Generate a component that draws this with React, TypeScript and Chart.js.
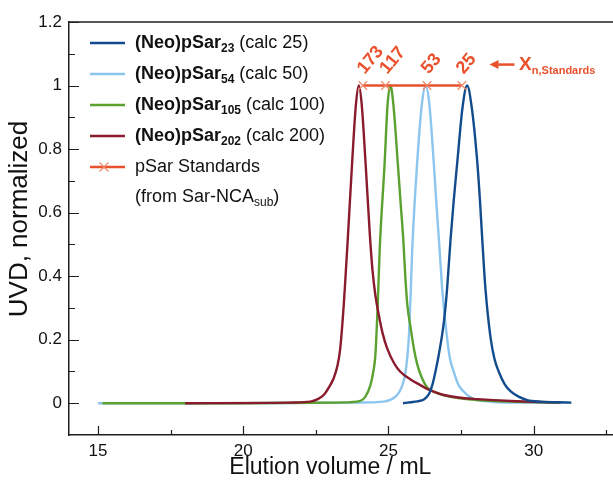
import React, { useEffect, useRef } from "react";
import { Chart, registerables } from "chart.js";

Chart.register(...registerables);

// ---------- data ----------
const darkBlueX = [25.5, 25.76, 26.0, 26.22, 26.4, 26.51, 26.62, 26.73, 26.91, 27.02, 27.14, 27.25, 27.37, 27.55, 27.71, 27.87, 28.06, 28.15, 28.23, 28.34, 28.52, 28.65, 28.8, 29.0, 29.21, 29.5, 29.78, 30.24, 30.8, 31.3];
const darkBlueY = [0, 0.003, 0.006, 0.012, 0.03, 0.057, 0.1, 0.151, 0.256, 0.361, 0.517, 0.64, 0.758, 0.93, 1.0, 0.93, 0.758, 0.64, 0.517, 0.361, 0.204, 0.14, 0.099, 0.06, 0.037, 0.02, 0.01, 0.005, 0.003, 0.002];

const lightBlueX = [15, 20, 23.92, 24.84, 25.1, 25.3, 25.45, 25.59, 25.7, 25.76, 25.82, 25.99, 26.15, 26.28, 26.41, 26.56, 26.65, 26.76, 26.85, 27.02, 27.12, 27.25, 27.4, 27.59, 27.8, 28.06, 28.4, 28.75, 29.5, 31.0];
const lightBlueY = [0, 0, 0.002, 0.005, 0.012, 0.026, 0.05, 0.099, 0.204, 0.33, 0.486, 0.758, 0.94, 1.0, 0.94, 0.758, 0.63, 0.486, 0.361, 0.204, 0.14, 0.099, 0.06, 0.037, 0.02, 0.01, 0.006, 0.003, 0.002, 0.001];

const greenX = [15.15, 20, 23.1, 23.92, 24.2, 24.38, 24.48, 24.55, 24.63, 24.7, 24.87, 24.97, 25.07, 25.17, 25.32, 25.42, 25.51, 25.58, 25.65, 25.76, 25.88, 26.0, 26.15, 26.33, 26.6, 26.91, 27.4, 28.06, 29.21, 30.9];
const greenY = [0, 0, 0.002, 0.005, 0.02, 0.057, 0.1, 0.151, 0.308, 0.486, 0.758, 0.94, 1.0, 0.94, 0.758, 0.63, 0.517, 0.4, 0.31, 0.24, 0.17, 0.12, 0.08, 0.05, 0.035, 0.025, 0.016, 0.01, 0.005, 0.002];

const maroonX = [18, 21.0, 21.62, 22.31, 22.55, 22.77, 22.95, 23.11, 23.25, 23.34, 23.46, 23.53, 23.6, 23.75, 23.88, 23.98, 24.08, 24.21, 24.36, 24.45, 24.55, 24.67, 24.8, 24.96, 25.2, 25.41, 25.76, 26.1, 26.33, 26.6, 26.91, 27.4, 28.06, 29.21, 30.24, 30.9];
const maroonY = [0, 0.001, 0.002, 0.005, 0.012, 0.026, 0.05, 0.078, 0.12, 0.172, 0.308, 0.41, 0.517, 0.758, 0.94, 1.0, 0.94, 0.76, 0.53, 0.42, 0.34, 0.277, 0.22, 0.172, 0.125, 0.099, 0.075, 0.057, 0.045, 0.035, 0.026, 0.018, 0.013, 0.007, 0.004, 0.003];

const standardsX = [24.12, 24.9, 26.33, 27.53];
const standardsY = [1.0, 1.0, 1.0, 1.0];
const standardsLabels = ["173", "117", "53", "25"];

const xMajorTicks = [15, 20, 25, 30];
const xMinorTicks = [17.5, 22.5, 27.5, 32.5];
const yMajorTicks = [0, 0.2, 0.4, 0.6, 0.8, 1.0, 1.2];
const yMinorTicks = [0.1, 0.3, 0.5, 0.7, 0.9, 1.1];

const legendNames = ["(Neo)pSar", "(Neo)pSar", "(Neo)pSar", "(Neo)pSar"];
const legendSubs = ["23", "54", "105", "202"];
const legendCalc = ["(calc 25)", "(calc 50)", "(calc 100)", "(calc 200)"];

const xTitle = "Elution volume / mL";
const yTitle = "UVD, normalized";

// ---------- styles ----------
const C_DARK = "#124C8D";
const C_LIGHT = "#8CC6EE";
const C_GREEN = "#5BA12F";
const C_MAROON = "#8A1B2E";
const C_STD = "#E9502B";
const C_STD_PT = "#F0896A";
const C_AXIS = "#1f1f1f";
const FONT = "'Liberation Sans', Arial, Helvetica, sans-serif";

const pts = (xs: number[], ys: number[]) => xs.map((x, i) => ({ x, y: ys[i] }));

function drawRich(ctx: CanvasRenderingContext2D, parts: { t: string; b?: boolean; sub?: boolean; size?: number }[], x: number, y: number) {
  let cx = x;
  for (const p of parts) {
    const size = p.size ?? (p.sub ? 12 : 18);
    ctx.font = `${p.b ? "bold " : ""}${size}px ${FONT}`;
    ctx.fillText(p.t, cx, p.sub ? y + 6 : y);
    cx += ctx.measureText(p.t).width;
  }
  return cx;
}

const overlay = {
  id: "overlay",
  afterDraw(chart: any) {
    const { ctx, chartArea } = chart;
    const xs = chart.scales.x;
    const ys = chart.scales.y;
    ctx.save();
    // top frame line
    ctx.strokeStyle = C_AXIS;
    ctx.lineWidth = 1.5;
    ctx.beginPath();
    ctx.moveTo(chartArea.left, chartArea.top);
    ctx.lineTo(chartArea.right, chartArea.top);
    ctx.stroke();
    // inward ticks
    ctx.lineWidth = 1.2;
    const b = chartArea.bottom;
    const l = chartArea.left;
    ctx.beginPath();
    xMajorTicks.forEach((v) => { const p = Math.round(xs.getPixelForValue(v)) + 0.5; ctx.moveTo(p, b); ctx.lineTo(p, b - 9); });
    xMinorTicks.forEach((v) => { const p = Math.round(xs.getPixelForValue(v)) + 0.5; ctx.moveTo(p, b); ctx.lineTo(p, b - 5); });
    yMajorTicks.forEach((v) => { const p = Math.round(ys.getPixelForValue(v)) + 0.5; ctx.moveTo(l, p); ctx.lineTo(l + 10, p); });
    yMinorTicks.forEach((v) => { const p = Math.round(ys.getPixelForValue(v)) + 0.5; ctx.moveTo(l, p); ctx.lineTo(l + 6, p); });
    ctx.stroke();

    // axis titles
    ctx.fillStyle = "#111";
    ctx.textAlign = "center";
    ctx.textBaseline = "middle";
    ctx.font = `23px ${FONT}`;
    ctx.fillText(xTitle, xs.getPixelForValue(23), 468);
    ctx.save();
    ctx.font = `26px ${FONT}`;
    ctx.translate(20, ys.getPixelForValue(0.58));
    ctx.rotate(-Math.PI / 2);
    ctx.fillText(yTitle, 0, 0);
    ctx.restore();

    // standards labels
    ctx.fillStyle = C_STD;
    ctx.font = `bold 18px ${FONT}`;
    ctx.textAlign = "left";
    ctx.textBaseline = "middle";
    standardsX.forEach((v, i) => {
      const px = xs.getPixelForValue(v);
      const py = ys.getPixelForValue(standardsY[i]);
      ctx.save();
      ctx.translate(px - 2, py - 14);
      ctx.rotate((-50 * Math.PI) / 180);
      ctx.fillText(standardsLabels[i], 0, 0);
      ctx.restore();
    });

    // arrow + X_n,Standards
    const ay = ys.getPixelForValue(1.066);
    const ax0 = xs.getPixelForValue(28.48);
    const ax1 = xs.getPixelForValue(29.34);
    ctx.strokeStyle = C_STD;
    ctx.lineWidth = 2.5;
    ctx.beginPath();
    ctx.moveTo(ax0 + 6, ay);
    ctx.lineTo(ax1, ay);
    ctx.stroke();
    ctx.beginPath();
    ctx.moveTo(ax0, ay);
    ctx.lineTo(ax0 + 9, ay - 4.5);
    ctx.lineTo(ax0 + 9, ay + 4.5);
    ctx.closePath();
    ctx.fill();
    const tx = xs.getPixelForValue(29.5);
    drawRich(ctx, [{ t: "X", b: true, size: 19 }, { t: "n,Standards", b: true, sub: true, size: 11 }], tx, ay);

    // legend
    const colors = [C_DARK, C_LIGHT, C_GREEN, C_MAROON];
    const rows = [43, 74, 105, 136, 167];
    const lx0 = 90, lx1 = 125, tx0 = 135;
    ctx.textBaseline = "middle";
    ctx.fillStyle = "#111";
    colors.forEach((c, i) => {
      ctx.strokeStyle = c;
      ctx.lineWidth = 2.5;
      ctx.beginPath();
      ctx.moveTo(lx0, rows[i]);
      ctx.lineTo(lx1, rows[i]);
      ctx.stroke();
      drawRich(ctx, [
        { t: legendNames[i], b: true },
        { t: legendSubs[i], b: true, sub: true },
        { t: " " + legendCalc[i] },
      ], tx0, rows[i]);
    });
    // standards legend entry
    const ry = rows[4];
    ctx.strokeStyle = C_STD;
    ctx.lineWidth = 2.5;
    ctx.beginPath();
    ctx.moveTo(lx0, ry);
    ctx.lineTo(lx1, ry);
    ctx.stroke();
    ctx.strokeStyle = C_STD_PT;
    ctx.lineWidth = 1.2;
    const cxm = 104;
    ctx.beginPath();
    ctx.moveTo(cxm - 4.5, ry - 4.5); ctx.lineTo(cxm + 4.5, ry + 4.5);
    ctx.moveTo(cxm - 4.5, ry + 4.5); ctx.lineTo(cxm + 4.5, ry - 4.5);
    ctx.stroke();
    drawRich(ctx, [{ t: "pSar Standards" }], tx0, ry);
    drawRich(ctx, [{ t: "(from Sar-NCA" }, { t: "sub", sub: true }, { t: ")" }], tx0, ry + 30);

    ctx.restore();
  },
};

export default function App() {
  const ref = useRef<HTMLCanvasElement | null>(null);
  useEffect(() => {
    if (!ref.current) return;
    Chart.defaults.font.family = FONT;
    const line = (data: any, color: string, order: number) => ({
      data,
      borderColor: color,
      backgroundColor: color,
      borderWidth: 2.4,
      pointRadius: 0,
      cubicInterpolationMode: "monotone" as const,
      order,
      fill: false,
    });
    const chart = new Chart(ref.current, {
      type: "line",
      data: {
        datasets: [
          {
            data: pts(standardsX, standardsY),
            borderColor: C_STD,
            backgroundColor: C_STD,
            borderWidth: 2.5,
            pointStyle: "crossRot",
            pointRadius: 6,
            pointBorderWidth: 1.2,
            pointBorderColor: C_STD_PT,
            order: 0,
          } as any,
          line(pts(darkBlueX, darkBlueY), C_DARK, 1),
          line(pts(maroonX, maroonY), C_MAROON, 2),
          line(pts(greenX, greenY), C_GREEN, 3),
          line(pts(lightBlueX, lightBlueY), C_LIGHT, 4),
        ],
      },
      options: {
        responsive: false,
        animation: false,
        events: [],
        layout: { padding: { top: 22, left: 0, right: 0, bottom: 0 } },
        plugins: { legend: { display: false }, tooltip: { enabled: false }, title: { display: false } },
        scales: {
          x: {
            type: "linear",
            min: 14,
            max: 34,
            grid: { display: false, drawTicks: false },
            border: { display: true, color: C_AXIS, width: 1.5 },
            afterBuildTicks: (s: any) => { s.ticks = xMajorTicks.map((v) => ({ value: v })); },
            afterFit: (s: any) => { s.height = 56; },
            ticks: { color: "#111", font: { size: 17 }, padding: 6, maxRotation: 0, callback: (v: any) => String(v) },
          },
          y: {
            type: "linear",
            min: -0.1,
            max: 1.2,
            grid: { display: false, drawTicks: false },
            border: { display: true, color: C_AXIS, width: 1.5 },
            afterBuildTicks: (s: any) => { s.ticks = yMajorTicks.map((v) => ({ value: v })); },
            afterFit: (s: any) => { s.width = 69; },
            ticks: { color: "#111", font: { size: 17 }, padding: 7, callback: (v: any) => String(+Number(v).toFixed(1)) },
          },
        },
      },
      plugins: [overlay],
    });
    return () => chart.destroy();
  }, []);
  return (
    <div style={{ position: "fixed", left: 0, top: 0, width: 613, height: 491, overflow: "hidden", background: "#fff" }}>
      <canvas ref={ref} width={657} height={491} style={{ display: "block" }} />
    </div>
  );
}
